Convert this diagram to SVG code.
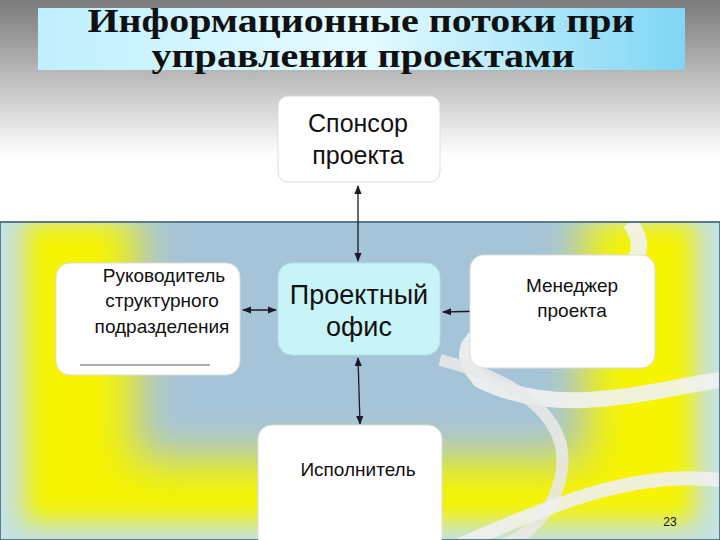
<svg xmlns="http://www.w3.org/2000/svg" width="720" height="540" viewBox="0 0 720 540">
<defs>
<linearGradient id="top" x1="0" y1="0" x2="0" y2="1"><stop offset="0" stop-color="#7a7a7a"/><stop offset="0.7" stop-color="#ffffff"/><stop offset="1" stop-color="#ffffff"/></linearGradient>
<linearGradient id="tt" x1="0" y1="0" x2="1" y2="0"><stop offset="0" stop-color="#bff0ff"/><stop offset="0.5" stop-color="#e6fbff"/><stop offset="1" stop-color="#7fd6f5"/></linearGradient>
<filter id="bl" x="-0.3" y="-0.3" width="1.6" height="1.6"><feGaussianBlur stdDeviation="22"/></filter>
<filter id="bl2" x="-0.1" y="-0.1" width="1.2" height="1.2"><feGaussianBlur stdDeviation="12"/></filter>
<clipPath id="cp"><rect x="0" y="222" width="720" height="318"/></clipPath>
<marker id="ah" viewBox="0 0 10 10" refX="9" refY="5" markerWidth="7" markerHeight="7" orient="auto-start-reverse"><path d="M0,1 L10,5 L0,9 z" fill="#1a1a2a"/></marker>
<style>
.n{fill:#fff;stroke:#ddd;stroke-width:1}
.t{font-family:"Liberation Sans",Arial,sans-serif;fill:#111;text-anchor:middle}
.c{stroke:#1a1a2a;stroke-width:1.3;fill:none;marker-start:url(#ah);marker-end:url(#ah)}
</style>
</defs>
<rect x="0" y="0" width="720" height="222" fill="url(#top)"/>
<g clip-path="url(#cp)">
<rect x="0" y="222" width="720" height="318" fill="#c4e2e2"/>
<rect x="25" y="222" width="670" height="300" fill="#f6f400" filter="url(#bl2)"/>
<rect x="135" y="170" width="450" height="290" fill="#a6c4d8" filter="url(#bl)"/>
<path d="M630,222 C650,250 640,280 560,300 C470,330 450,345 480,380 C560,420 650,390 720,380" stroke="#f2f2f2" stroke-width="16" fill="none" opacity="0.9"/>
<path d="M440,360 C520,380 575,420 560,480 C550,520 520,540 500,545" stroke="#e8e8e8" stroke-width="12" fill="none" opacity="0.9"/>
<path d="M720,480 C640,470 560,500 460,545" stroke="#f0f0f0" stroke-width="14" fill="none" opacity="0.9"/>
</g>
<rect x="0" y="222" width="720" height="318" fill="none" stroke="#5a7a8a" stroke-width="2"/>
<g id="title">
<rect x="38" y="8" width="647" height="62" fill="url(#tt)"/>
<text x="361" y="32" font-family="Liberation Serif,serif" font-weight="bold" font-size="34" text-anchor="middle" fill="#111" textLength="547" lengthAdjust="spacingAndGlyphs">Информационные потоки при</text>
<text x="363" y="67" font-family="Liberation Serif,serif" font-weight="bold" font-size="34" text-anchor="middle" fill="#111" textLength="423" lengthAdjust="spacingAndGlyphs">управлении проектами</text>
</g>
<g id="connectors">
<line class="c" x1="358" y1="186" x2="358" y2="261"/>
<line class="c" x1="358" y1="358" x2="360" y2="424"/>
<line class="c" x1="243" y1="310" x2="276" y2="310"/>
<line class="c" x1="443" y1="312" x2="486" y2="311"/>
</g>
<g id="sponsor">
<rect class="n" x="278" y="96" width="162" height="86" rx="10"/>
<text class="t" x="358" y="132" font-size="25">Спонсор</text>
<text class="t" x="358" y="164" font-size="25">проекта</text>
</g>
<g id="office">
<rect x="278" y="263" width="162" height="92" rx="14" fill="#c8f4f8" stroke="#b0e0e8"/>
<text class="t" x="359" y="304" font-size="27">Проектный</text>
<text class="t" x="359" y="336" font-size="27">офис</text>
</g>
<g id="head">
<rect class="n" x="56" y="263" width="184" height="112" rx="14"/>
<line x1="80" y1="365" x2="210" y2="365" stroke="#556" stroke-width="1"/>
<text class="t" x="164" y="282" font-size="19">Руководитель</text>
<text class="t" x="162" y="307" font-size="19">структурного</text>
<text class="t" x="162" y="333" font-size="19">подразделения</text>
</g>
<g id="manager">
<rect class="n" x="470" y="255" width="185" height="113" rx="14"/>
<text class="t" x="572" y="292" font-size="19">Менеджер</text>
<text class="t" x="572" y="317" font-size="19">проекта</text>
</g>
<g id="executor">
<rect class="n" x="258" y="425" width="184" height="125" rx="14"/>
<text class="t" x="358" y="476" font-size="19">Исполнитель</text>
</g>
<text class="t" x="670" y="526" font-size="12">23</text>
</svg>
